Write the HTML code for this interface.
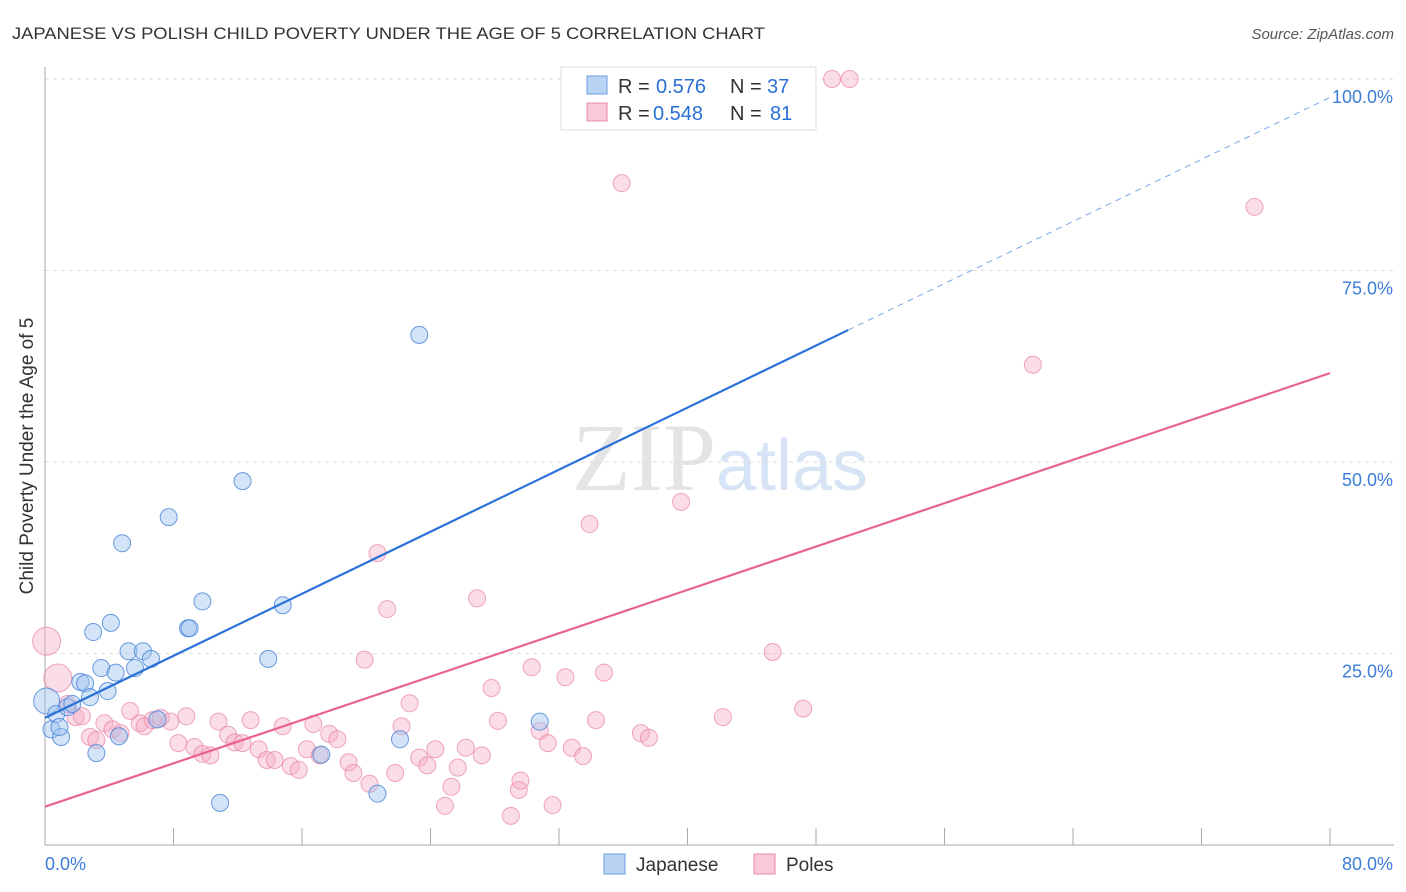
<!DOCTYPE html>
<html><head><meta charset="utf-8"><style>
body{margin:0;background:#fff;font-family:"Liberation Sans",sans-serif}
</style></head><body>
<svg id="chart" width="1406" height="892" xmlns="http://www.w3.org/2000/svg" style="display:block">
<text x="12" y="39" font-size="17" fill="#333" textLength="753" lengthAdjust="spacingAndGlyphs">JAPANESE VS POLISH CHILD POVERTY UNDER THE AGE OF 5 CORRELATION CHART</text>
<text x="1394" y="39" font-size="15" fill="#555" text-anchor="end" font-style="italic">Source: ZipAtlas.com</text>
<text x="720" y="490" font-size="96" fill="#e4e4e4" text-anchor="middle" font-family="Liberation Serif">ZIP<tspan fill="#d6e4f5" font-family="Liberation Sans" font-size="72">atlas</tspan></text>
<text transform="translate(33,456) rotate(-90)" font-size="19" fill="#333" text-anchor="middle">Child Poverty Under the Age of 5</text>
<g id="grid"></g><g id="axes"></g><g id="pts"></g><g id="lines"></g>
<g font-size="20">
<rect x="561" y="67" width="255" height="63" fill="#fff" stroke="#ddd"/>
<rect x="587" y="76" width="20" height="18" fill="#b9d3f3" stroke="#6a9de0"/>
<text x="618" y="93" fill="#333">R =</text><text x="656" y="93" fill="#2a6fd6">0.576</text>
<text x="730" y="93" fill="#333">N =</text><text x="767" y="93" fill="#2a6fd6">37</text>
<rect x="587" y="103" width="20" height="18" fill="#f9c9d8" stroke="#e88aa8"/>
<text x="618" y="120" fill="#333">R =</text><text x="653" y="120" fill="#2a6fd6">0.548</text>
<text x="730" y="120" fill="#333">N =</text><text x="770" y="120" fill="#2a6fd6">81</text>
</g>
<g>
<rect x="604" y="854" width="21" height="20" fill="#b9d3f3" stroke="#6a9de0"/>
<text x="636" y="871" font-size="19" fill="#333">Japanese</text>
<rect x="754" y="854" width="21" height="20" fill="#f9c9d8" stroke="#e88aa8"/>
<text x="786" y="871" font-size="19" fill="#333">Poles</text>
</g>
</svg>
<script>
const jpX=[0.1,0.4,0.7,1.0,1.4,1.7,2.2,2.5,2.8,3.0,3.2,3.5,3.9,4.1,4.4,4.6,4.8,5.2,5.6,6.1,6.6,7.0,7.7,8.9,9.0,9.8,10.9,12.3,13.9,14.8,17.2,20.7,22.1,23.3,30.8,47.0,0.9];
const jpY=[18.8,15.1,17.1,14.1,18.0,18.4,21.3,21.1,19.3,27.8,12.0,23.1,20.1,29.0,22.5,14.2,39.4,25.3,23.1,25.3,24.3,16.4,42.8,28.3,28.3,31.8,5.5,47.5,24.3,31.3,11.8,6.7,13.8,66.6,16.1,100,15.4];
const plX=[0.1,0.8,1.4,1.9,2.3,2.8,3.2,3.7,4.2,4.7,5.3,5.9,6.2,6.7,7.2,7.8,8.3,8.8,9.3,9.8,10.3,10.8,11.4,11.8,12.3,12.8,13.3,13.8,14.3,14.8,15.3,15.8,16.3,16.7,17.1,17.7,18.2,18.9,19.2,19.9,20.2,20.7,21.3,21.8,22.2,22.7,23.3,23.8,24.3,24.9,25.3,25.7,26.2,26.9,27.2,27.8,28.2,29.0,29.5,29.6,30.3,30.8,31.3,31.6,32.4,32.8,33.5,33.9,34.3,34.8,35.9,37.1,37.6,39.6,42.2,45.3,47.2,49.0,50.1,61.5,75.3];
const plY=[26.6,21.8,18.4,16.7,16.8,14.1,13.7,15.9,15.1,14.6,17.5,15.9,15.5,16.3,16.6,16.1,13.3,16.8,12.8,11.9,11.7,16.1,14.4,13.4,13.3,16.3,12.5,11.1,11.1,15.5,10.3,9.8,12.5,15.8,11.7,14.5,13.8,10.8,9.4,24.2,8.0,38.1,30.8,9.4,15.5,18.5,11.4,10.4,12.5,5.1,7.6,10.1,12.7,32.2,11.7,20.5,16.2,3.8,7.2,8.4,23.2,14.9,13.3,5.2,21.9,12.7,11.6,41.9,16.3,22.5,86.4,14.6,14.0,44.8,16.7,25.2,17.8,100,100,62.7,83.3];
const yTicks=[25,50,75,100];
const xLabels=["0.0%","80.0%"];
const jpLine=[16.6,97.6]; const plLine=[5.0,61.6];
const X=v=>45+v*1285/80, Y=v=>845-v*7.66;
const NS="http://www.w3.org/2000/svg";
function mk(t,a,p){const e=document.createElementNS(NS,t);for(const k in a)e.setAttribute(k,a[k]);p.appendChild(e);return e;}
const grid=document.getElementById('grid'),axes=document.getElementById('axes'),pts=document.getElementById('pts'),lines=document.getElementById('lines');
yTicks.forEach(t=>{const l=mk('line',{x1:45,x2:1394,y1:Y(t),y2:Y(t),stroke:'#ddd','stroke-dasharray':'4,4'},grid);


const tx=mk('text',{x:1393,y:Y(t)+24,'font-size':18,fill:'#3b7dd8','text-anchor':'end'},axes);tx.textContent=t.toFixed(1)+'%';

});
mk('line',{x1:45,x2:45,y1:67,y2:845,stroke:'#aaa'},axes);
mk('line',{x1:45,x2:1394,y1:845,y2:845,stroke:'#aaa'},axes);
for(let i=1;i<=10;i++){const x=X(i*8);mk('line',{x1:x,x2:x,y1:828,y2:845,stroke:'#aaa'},axes);}
const l0=mk('text',{x:45,y:870,'font-size':18,fill:'#3b7dd8'},axes);l0.textContent=xLabels[0];


const l1=mk('text',{x:1393,y:870,'font-size':18,fill:'#3b7dd8','text-anchor':'end'},axes);l1.textContent=xLabels[1];


plX.forEach((x,i)=>{const r=(i<2)?14:8.5;const c=mk('circle',{cx:X(x),cy:Y(plY[i]),r:r,fill:'rgba(246,170,195,0.4)',stroke:'rgba(232,130,165,0.7)','stroke-width':1},pts);

});
jpX.forEach((x,i)=>{const r=(i==0)?13:8.5;const c=mk('circle',{cx:X(x),cy:Y(jpY[i]),r:r,fill:'rgba(160,196,240,0.45)',stroke:'rgba(70,130,215,0.8)','stroke-width':1},pts);

});
const jy=x=>jpLine[0]+(jpLine[1]-jpLine[0])*x/80;
const a=mk('line',{x1:X(0),y1:Y(jy(0)),x2:X(50),y2:Y(jy(50)),stroke:'#2a72d8','stroke-width':2.2},lines);


const b=mk('line',{x1:X(50),y1:Y(jy(50)),x2:X(80),y2:Y(jy(80)),stroke:'#7aa7e6','stroke-width':1,'stroke-dasharray':'6,5'},lines);


const c=mk('line',{x1:X(0),y1:Y(plLine[0]),x2:X(80),y2:Y(plLine[1]),stroke:'#e8648f','stroke-width':2.2},lines);


</script>
</body></html>
